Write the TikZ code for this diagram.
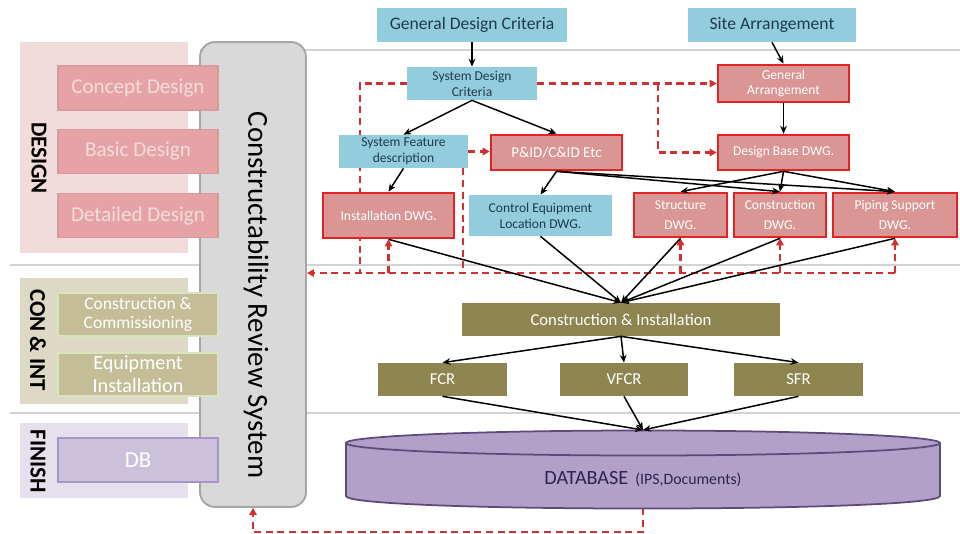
\documentclass[tikz,border=0pt]{standalone}
\usepackage{fontspec}
\setmainfont{Carlito}
\usepackage{xcolor}
\usetikzlibrary{arrows.meta,backgrounds}

\definecolor{critblue}{HTML}{93CDDD}
\definecolor{critink}{HTML}{1F3A4F}
\definecolor{dwgrose}{HTML}{D99694}
\definecolor{dwgred}{HTML}{E02424}
\definecolor{buildolive}{HTML}{8E8450}
\definecolor{designpale}{HTML}{F2DCDB}
\definecolor{designrose}{HTML}{E6A3A6}
\definecolor{designedge}{HTML}{DA9A9D}
\definecolor{conpale}{HTML}{DDD9C4}
\definecolor{contan}{HTML}{C4BD97}
\definecolor{conedge}{HTML}{D7E4BD}
\definecolor{finishpale}{HTML}{E6E0EC}
\definecolor{finishlav}{HTML}{CCC1DA}
\definecolor{finishedge}{HTML}{A696C6}
\definecolor{crsgray}{HTML}{D9D9D9}
\definecolor{crsedge}{HTML}{A6A6A6}
\definecolor{dbpurple}{HTML}{B1A0C7}
\definecolor{dbedge}{HTML}{5F497A}
\definecolor{dbink}{HTML}{2E2450}
\definecolor{fbred}{HTML}{D23030}
\definecolor{sepgray}{HTML}{D0D4D8}

\begin{document}
\begin{tikzpicture}[x=0.02cm, y=-0.02cm,
    every node/.style={inner sep=1pt},
    small/.style={align=center, font=\fontsize{7.7}{9}\selectfont},
    bluebox/.style={rectangle, small, fill=critblue, text=critink},
    redbox/.style={rectangle, small, fill=dwgrose, draw=dwgred, line width=1.5pt, text=white},
    olivebox/.style={rectangle, fill=buildolive, text=white, minimum height=0.66cm, font=\fontsize{9.5}{11}\selectfont},
    panel/.style={rectangle, minimum width=3.36cm},
    stagelabel/.style={rotate=-90, font=\bfseries\fontsize{13}{15}\selectfont},
    stagebox/.style={rectangle, align=center, minimum width=3.2cm, minimum height=0.88cm, line width=0.8pt},
    flow/.style={-{Stealth[length=4.5pt,width=3.8pt]}, line width=0.85pt},
    fb/.style={draw=fbred, line width=1.3pt, dash pattern=on 4pt off 2.6pt},
    fbarrow/.style={fb, -{Triangle[length=4pt,width=4.2pt]}},
    sepline/.style={draw=sepgray, line width=1pt}]
    \useasboundingbox (0,0) rectangle (960,534);

    % Stage panels
    \node (designpanel) [panel, fill=designpale, minimum height=4.22cm] at (104,147.5) {};
    \node (conpanel) [panel, fill=conpale, minimum height=2.52cm] at (104,341) {};
    \node (finishpanel) [panel, fill=finishpale, minimum height=1.5cm] at (104,460.5) {};
    \node (designlbl) [stagelabel] at (39,158) {DESIGN};
    \node (conlbl) [stagelabel] at (38,340) {CON \& INT};
    \node (finishlbl) [stagelabel] at (38,461) {FINISH};

    % Review system column
    \node (crs) [rectangle, rounded corners=0.3cm, fill=crsgray, draw=crsedge, line width=1.1pt,
        minimum width=2.12cm, minimum height=9.3cm] at (253,274.5) {};
    \node (crstext) [rotate=-90, font=\fontsize{16.5}{18}\selectfont] at (256,295) {Constructability Review System};

    % Stage boxes
    \node (concept) [stagebox, fill=designrose, draw=designedge, text=designpale, font=\fontsize{12}{14}\selectfont] at (138,88) {Concept Design};
    \node (basic) [stagebox, fill=designrose, draw=designedge, text=designpale, font=\fontsize{12}{14}\selectfont] at (138,151.5) {Basic Design};
    \node (detailed) [stagebox, fill=designrose, draw=designedge, text=designpale, font=\fontsize{12}{14}\selectfont] at (138,215.5) {Detailed Design};
    \node (commis) [stagebox, fill=contan, draw=conedge, text=white, minimum height=0.86cm, font=\fontsize{10}{11}\selectfont] at (138,314.5) {Construction \&\\Commissioning};
    \node (equip) [stagebox, fill=contan, draw=conedge, text=white, minimum height=0.86cm, font=\fontsize{11.5}{13}\selectfont] at (138,374.5) {Equipment\\Installation};
    \node (dbstage) [stagebox, fill=finishlav, draw=finishedge, text=white, font=\fontsize{13}{15}\selectfont] at (138,460) {DB};

    % Design documents
    \node (gdc) [bluebox, minimum width=3.8cm, minimum height=0.68cm, font=\fontsize{10}{12}\selectfont] at (472,25) {General Design Criteria};
    \node (site) [bluebox, minimum width=3.36cm, minimum height=0.68cm, font=\fontsize{10}{12}\selectfont] at (772,25) {Site Arrangement};
    \node (sdc) [bluebox, minimum width=2.6cm, minimum height=0.66cm] at (472,83.5) {System Design\\Criteria};
    \node (sfd) [bluebox, minimum width=2.58cm, minimum height=0.66cm] at (403.5,151.5) {System Feature\\description};
    \node (pid) [redbox, minimum width=2.62cm, minimum height=0.7cm, font=\fontsize{8.6}{10}\selectfont] at (556.5,152.5) {P\&ID/C\&ID Etc};
    \node (inst) [redbox, minimum width=2.62cm, minimum height=0.9cm] at (388.5,215.5) {Installation DWG.};
    \node (ctrl) [bluebox, minimum width=2.86cm, minimum height=0.82cm] at (540.5,215.5) {Control Equipment\\Location DWG.};
    \node (ga) [redbox, minimum width=2.62cm, minimum height=0.74cm] at (783.5,83.5) {General\\Arrangement};
    \node (dbd) [redbox, minimum width=2.62cm, minimum height=0.7cm] at (783.5,152.5) {Design Base DWG.};
    \node (struct) [redbox, minimum width=1.86cm, minimum height=0.88cm, font=\fontsize{7.7}{11}\selectfont] at (680.5,215) {Structure\\DWG.};
    \node (cons) [redbox, minimum width=1.84cm, minimum height=0.88cm, font=\fontsize{7.7}{11}\selectfont] at (780,215) {Construction\\DWG.};
    \node (pipe) [redbox, minimum width=2.48cm, minimum height=0.88cm, font=\fontsize{7.7}{11}\selectfont] at (895,215) {Piping Support\\DWG.};

    % Construction
    \node (ci) [olivebox, minimum width=6.36cm] at (621,319.5) {Construction \& Installation};
    \node (fcr) [olivebox, minimum width=2.58cm] at (442.5,379.5) {FCR};
    \node (vfcr) [olivebox, minimum width=2.58cm] at (624,379.5) {VFCR};
    \node (sfr) [olivebox, minimum width=2.58cm] at (798.5,379.5) {SFR};

    % Database
    \draw[fill=dbpurple, draw=dbedge, line width=1pt] (346,443) -- (346,496)
        .. controls (346,512.7) and (940,512.7) .. (940,496) -- (940,443);
    \draw[fill=dbpurple, draw=dbedge, line width=1pt] (643,443) ellipse [x radius=297, y radius=12.5];
    \node (db) [text=dbink] at (643,479) {\fontsize{11.5}{13}\selectfont DATABASE\hspace{0.35em}\fontsize{9}{11}\selectfont(IPS,Documents)};
    \coordinate (dbtop) at (643,430);
    \coordinate (dbbot) at (643,508);

    % Arrows
    \draw[flow] (gdc.south) -- (sdc.north);
    \draw[flow] (site.south) -- (ga.north);
    \draw[flow] (sdc.south) -- (sfd.north);
    \draw[flow] (sdc.south) -- (pid.north);
    \draw[flow] (sfd.south) -- (inst.north);
    \draw[flow] (pid.south) -- (ctrl.north);
    \draw[flow] (pid.south) -- (cons.north);
    \draw[flow] (pid.south) -- (pipe.north);
    \draw[flow] (ga.south) -- (dbd.north);
    \draw[flow] (dbd.south) -- (struct.north);
    \draw[flow] (dbd.south) -- (cons.north);
    \draw[flow] (dbd.south) -- (pipe.north);
    \draw[flow] (inst.south) -- (ci.north);
    \draw[flow] (ctrl.south) -- (ci.north);
    \draw[flow] (struct.south) -- (ci.north);
    \draw[flow] (cons.south) -- (ci.north);
    \draw[flow] (pipe.south) -- (ci.north);
    \draw[flow] (ci.south) -- (fcr.north);
    \draw[flow] (ci.south) -- (vfcr.north);
    \draw[flow] (ci.south) -- (sfr.north);
    \draw[flow] (fcr.south) -- (dbtop);
    \draw[flow] (vfcr.south) -- (dbtop);
    \draw[flow] (sfr.south) -- (dbtop);

    % Feedback (dashed)
    \begin{pgfonlayer}{background}
        \draw[sepline] (200,50) -- (960,50);
        \draw[sepline] (10,265) -- (960,265);
        \draw[sepline] (10,413) -- (960,413);
        \coordinate (busL) at (360,273);
        \coordinate (busR) at (895,273);
        \coordinate (split) at (658,83.5);
        \coordinate (sfddrop) at ([xshift=-0.1cm]sfd.south east);
        \coordinate (dbret) at (643,532);
        \draw[fbarrow] (sdc.east) -- (ga.west);
        \draw[fbarrow] (split) |- (dbd.west);
        \draw[fbarrow] (sfd.east) -- (sfd.east -| pid.west);
        \draw[fb] (sdc.west) -| (busL);
        \draw[fb] (sfddrop) -- (sfddrop |- busL);
        \draw[fbarrow] (busR) -- (crs.east |- busR);
        \draw[fbarrow] (inst.south |- busL) -- (inst.south);
        \draw[fbarrow] (struct.south |- busL) -- (struct.south);
        \draw[fbarrow] (cons.south |- busL) -- (cons.south);
        \draw[fbarrow] (pipe.south |- busL) -- (pipe.south);
        \draw[fbarrow] (dbbot) -- (dbret) -| (crs.south);
    \end{pgfonlayer}
\end{tikzpicture}
\end{document}
